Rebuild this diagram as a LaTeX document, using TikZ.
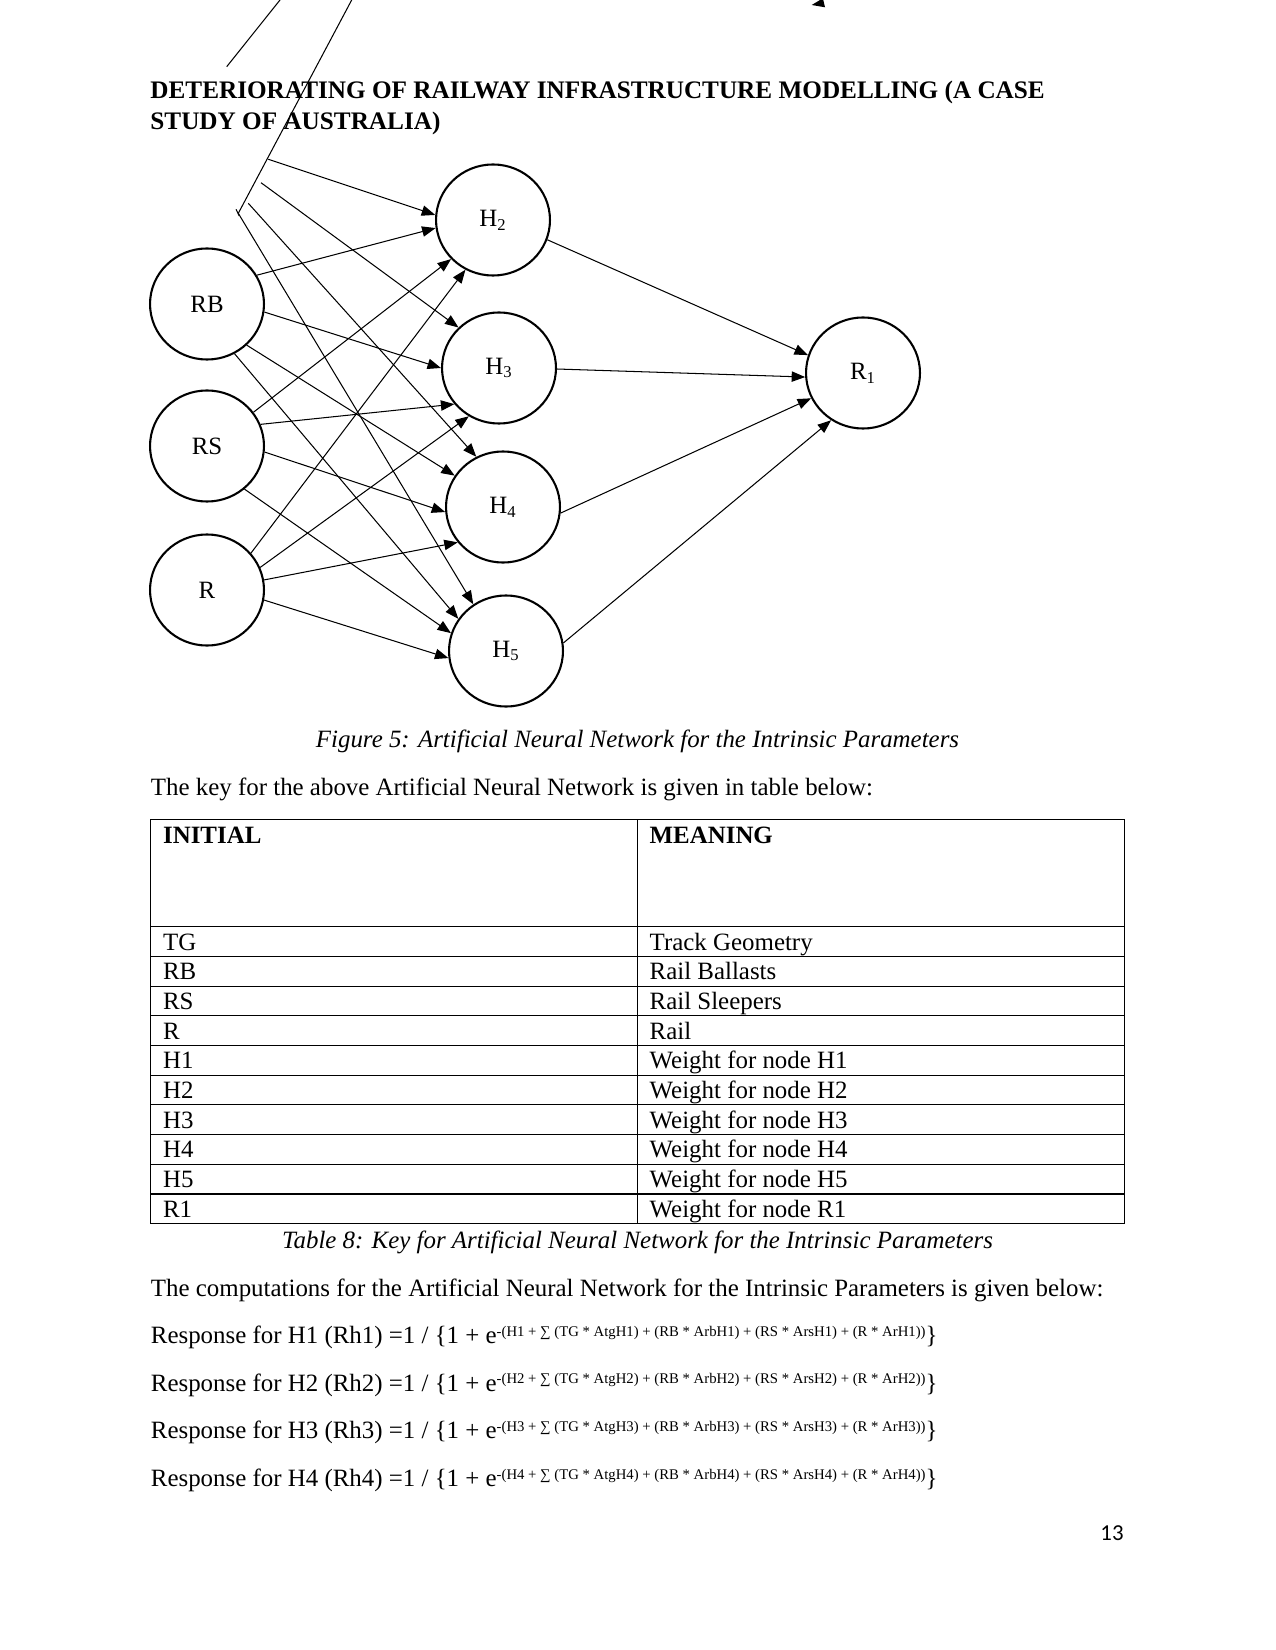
\documentclass[tikz,border=0pt]{standalone}
\usepackage{fontspec}
\setmainfont{Liberation Serif}
\newfontfamily\pagenumfont{Carlito}
\usepackage{tikz}
\usetikzlibrary{arrows.meta,shapes.geometric}
\newcommand{\expfont}{\fontsize{7.1}{8}\selectfont}

\begin{document}
\begin{tikzpicture}[x=0.4818pt,y=-0.4818pt]
\tikzset{neuron/.style = {shape=ellipse,draw,line width=1pt,minimum width=54.9pt,minimum height=53.5pt,inner sep=0pt,font=\fontsize{12}{14}\selectfont}}
\tikzset{edge/.style = {-{Triangle[length=6.5pt,width=5pt]},line width=0.5pt}}
\tikzset{rule/.style = {line width=0.5pt}}
\tikzset{txt/.style = {anchor=base west,inner sep=0pt,font=\fontsize{12}{14}\selectfont}}
\useasboundingbox (0,0) rectangle (1275,1650);
% heading
\node[txt,font=\fontsize{12.15}{14}\selectfont\bfseries] (title1) at (150,98.3) {DETERIORATING OF RAILWAY INFRASTRUCTURE MODELLING (A CASE};
\node[txt,font=\fontsize{12.15}{14}\selectfont\bfseries] (title2) at (150,129.3) {STUDY OF AUSTRALIA)};
% network
\node[neuron] (RB) at (207,304) {RB};
\node[neuron] (RS) at (207,446) {RS};
\node[neuron] (R) at (207,590) {R};
\node[neuron] (H2) at (493,220) {H\textsubscript{2}};
\node[neuron] (H3) at (499,368) {H\textsubscript{3}};
\node[neuron] (H4) at (503,507) {H\textsubscript{4}};
\node[neuron] (H5) at (506,651) {H\textsubscript{5}};
\node[neuron] (R1) at (863,373) {R\textsubscript{1}};
\coordinate (tg1) at (268.3,159.3);
\coordinate (tg2) at (261,182.7);
\coordinate (tg3) at (248.3,203.3);
\coordinate (tg4) at (238.3,213.3);
\coordinate (strayA) at (280,0);
\coordinate (strayB) at (351.7,0);
\coordinate (strayC) at (226.7,66.7);
\draw[rule] (strayA) -- (strayC);
\draw[rule] (strayB) -- (tg4);
\draw[rule] (236,209.3) -- (239.3,216);
\fill (811.7,5) -- (820,0) -- (823.3,0) -- (825,7.3) -- cycle;
\draw[edge] (tg1) to (H2.175);
\draw[edge] (RB.30) to (H2.188);
\draw[edge] (RS.36) to (H2.223);
\draw[edge] (R.40) to (H2.241);
\draw[edge] (tg2) to (H3.135);
\draw[edge] (RB.352) to (H3.180);
\draw[edge] (RS.22) to (H3.219);
\draw[edge] (R.23) to (H3.238);
\draw[edge] (tg3) to (H4.118);
\draw[edge] (RB.314) to (H4.147);
\draw[edge] (RS.354) to (H4.185);
\draw[edge] (R.10) to (H4.218);
\draw[edge] (tg4) to (H5.125);
\draw[edge] (RB.299) to (H5.146);
\draw[edge] (RS.311) to (H5.162);
\draw[edge] (R.350) to (H5.187);
\draw[edge] (H2.340) to (R1.162);
\draw[edge] (H3.359) to (R1.184);
\draw[edge] (H4.354) to (R1.206);
\draw[edge] (H5.8) to (R1.236);
\node[txt,anchor=base,font=\fontsize{12}{14}\selectfont\itshape] (figcap) at (637.5,747) {Figure 5: Artificial Neural Network for the Intrinsic Parameters};
\node[txt] (keytext) at (150.5,795) {The key for the above Artificial Neural Network is given in table below:};
% key table
\draw[rule] (150.7,819.3) rectangle (1124.6,1223.7);
\draw[rule] (637.3,819.3) -- (637.3,1223.7);
\foreach \k in {0,...,9}
  \draw[rule] ({150.7},{926.7+29.7*\k}) -- ({1124.6},{926.7+29.7*\k});
\node[txt,font=\fontsize{12}{14}\selectfont\bfseries] (inihead) at (162.7,843.5) {INITIAL};
\node[txt,font=\fontsize{12}{14}\selectfont\bfseries] (meanhead) at (649.3,843.5) {MEANING};
\foreach \ini/\mean [count=\r] in {TG/Track Geometry,RB/Rail Ballasts,RS/Rail Sleepers,R/Rail,H1/Weight for node H1,H2/Weight for node H2,H3/Weight for node H3,H4/Weight for node H4,H5/Weight for node H5,R1/Weight for node R1} {
  \node[txt] (ini\r) at ({162.7},{926.7+29.7*(\r-1)+23.3}) {\ini};
  \node[txt] (mean\r) at ({649.3},{926.7+29.7*(\r-1)+23.3}) {\mean};
}
\node[txt,anchor=base,font=\fontsize{12}{14}\selectfont\itshape] (tabcap) at (637.5,1248.5) {Table 8: Key for Artificial Neural Network for the Intrinsic Parameters};
% computations
\node[txt] (comptext) at (150.5,1296) {The computations for the Artificial Neural Network for the Intrinsic Parameters is given below:};
\foreach \k in {1,...,4}
  \node[txt] (resp\k) at ({150.5},{1343.3+47.7*(\k-1)}) {Response for H\k{} (Rh\k) =1 / \{1 + e\raisebox{3.5pt}{\expfont -(H\k{} + ∑ (TG * AtgH\k) + (RB * ArbH\k) + (RS * ArsH\k) + (R * ArH\k))}\}};
\node[txt,anchor=base east,font=\pagenumfont\fontsize{11}{13}\selectfont] (pagenum) at (1124,1540.7) {13};
\end{tikzpicture}
\end{document}
